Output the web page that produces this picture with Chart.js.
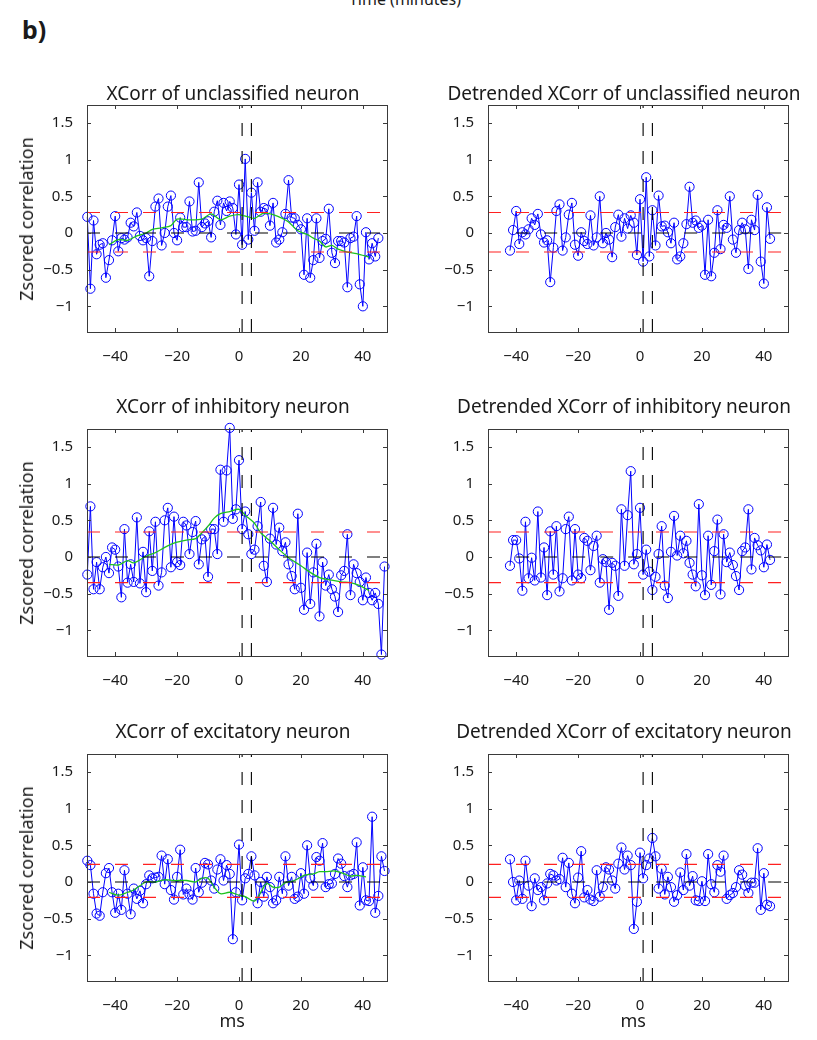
<!DOCTYPE html>
<html>
<head>
<meta charset="utf-8">
<script src="https://cdn.jsdelivr.net/npm/chart.js@4.4.1/dist/chart.umd.min.js"></script>
<style>
  body { margin: 0; background: #fff; font-family: "Noto Sans", sans-serif; color: #1a1a1a; }
  #fig { position: relative; width: 817px; height: 1040px; overflow: hidden; }
  canvas { position: absolute; }
  .title { position: absolute; font-size: 19px; white-space: nowrap; transform: translateX(-50%); }
  .ylab { position: absolute; font-size: 18px; white-space: nowrap; transform: translate(-50%, -50%) rotate(-90deg); }
  .xlab { position: absolute; font-size: 18px; transform: translateX(-50%); }
  #panel-tag { position: absolute; left: 22px; top: 12px; font-size: 25px; font-weight: bold; }
  #top-cut { position: absolute; left: 405px; top: -12px; font-size: 16px; transform: translateX(-50%); }
</style>
</head>
<body>
<div id="fig">
  <div id="top-cut">Time (minutes)</div>
  <div id="panel-tag">b)</div>
</div>
<script>
// ---- data ----
const xTicks = [-40, -20, 0, 20, 40];
const yTicks = [-1, -0.5, 0, 0.5, 1, 1.5];
const eventLags = [1, 4];
const rawLagStart = -49;
const detrendedLagStart = -42;

const titles = [
  ['XCorr of unclassified neuron', 'Detrended XCorr of unclassified neuron'],
  ['XCorr of inhibitory neuron', 'Detrended XCorr of inhibitory neuron'],
  ['XCorr of excitatory neuron', 'Detrended XCorr of excitatory neuron']
];

// significance thresholds (red dashed), one per row
const upperThreshold = [0.28, 0.34, 0.24];
const lowerThreshold = [-0.26, -0.35, -0.21];

// raw cross-correlations, lag -49 ms onwards
const rawUnclassified = [
  0.22, -0.76, 0.17, -0.29, -0.16, -0.14, -0.61, -0.37, -0.10, 0.23,
  -0.25, -0.07, -0.09, -0.06, 0.14, 0.09, 0.28, -0.04, -0.10, -0.07,
  -0.59, -0.11, 0.36, 0.47, -0.17, 0.00, 0.36, 0.51, 0.00, -0.10,
  0.21, 0.08, 0.08, 0.43, 0.02, 0.03, 0.69, 0.08, 0.13, 0.16,
  -0.06, 0.29, 0.44, 0.11, 0.41, 0.30, 0.43, 0.34, -0.02, 0.66,
  -0.16, 1.01, -0.09, 0.55, 0.03, 0.69, 0.29, 0.34, 0.32, 0.10,
  0.41, -0.13, -0.09, 0.01, 0.26, 0.72, 0.21, 0.20, 0.11, 0.05,
  -0.57, 0.20, -0.61, -0.37, 0.20, -0.34, -0.11, -0.08, 0.33, -0.27,
  -0.41, -0.11, -0.11, -0.13, -0.74, -0.07, -0.05, 0.23, -0.70, -1.00,
  0.01, -0.36, -0.14, -0.32, -0.07
];
const rawInhibitory = [
  -0.24, 0.69, -0.44, -0.07, -0.44, -0.14, 0.00, -0.22, 0.13, 0.10,
  -0.13, -0.55, 0.38, -0.35, -0.10, -0.34, 0.54, -0.36, 0.07, -0.48,
  0.35, -0.19, 0.48, -0.39, -0.21, 0.50, 0.67, -0.14, 0.55, -0.07,
  -0.11, 0.48, 0.43, 0.04, 0.34, 0.49, -0.10, 0.24, 0.28, -0.27,
  0.38, 0.38, 0.04, 1.19, 0.48, 1.18, 1.76, 0.52, 0.65, 1.32,
  0.38, 0.62, 0.31, 0.04, 0.10, 0.42, 0.75, -0.12, -0.34, 0.25,
  0.67, 0.17, 0.40, 0.08, 0.20, -0.10, -0.26, -0.44, 0.59, -0.42,
  -0.72, 0.06, -0.64, -0.21, 0.18, -0.81, -0.07, -0.39, -0.24, -0.44,
  -0.54, -0.75, -0.25, -0.19, 0.31, -0.52, -0.10, -0.22, -0.34, -0.59,
  -0.28, -0.49, -0.59, -0.49, -0.64, -1.33, -0.13
];
const rawExcitatory = [
  0.29, 0.23, -0.16, -0.43, -0.46, -0.14, 0.12, 0.19, -0.14, -0.42,
  -0.16, -0.38, 0.16, -0.16, -0.44, -0.09, -0.23, -0.12, -0.29, -0.03,
  0.09, 0.05, 0.06, 0.07, 0.36, -0.03, 0.31, -0.11, -0.24, 0.07,
  0.44, -0.17, -0.09, -0.17, -0.24, 0.19, -0.14, -0.01, 0.26, 0.24,
  0.02, -0.09, 0.17, 0.31, 0.02, 0.23, 0.11, -0.78, -0.14, 0.51,
  -0.25, 0.05, 0.11, 0.35, 0.09, -0.29, 0.00, -0.20, 0.07, -0.07,
  -0.29, -0.25, 0.07, -0.16, 0.35, -0.05, 0.07, -0.23, -0.20, 0.12,
  -0.16, 0.50, 0.05, -0.05, 0.34, 0.29, 0.53, -0.07, -0.03, -0.02,
  0.11, 0.32, 0.25, 0.08, -0.07, 0.09, 0.11, 0.54, -0.32, 0.20,
  -0.25, -0.26, 0.89, -0.42, -0.19, 0.35, 0.15
];

// green trend curves (sampled lags / values)
const trendLagsUnclassified = [-42, -39, -36, -33, -30, -28, -25, -22, -20, -16, -12, -9, -6, -3, 0, 3, 5, 8, 11, 14, 16, 19, 22, 24, 26, 28, 30, 32, 35, 38, 42];
const trendUnclassified = [-0.16, -0.09, -0.10, -0.04, 0.00, 0.05, 0.07, 0.10, 0.19, 0.18, 0.19, 0.26, 0.18, 0.23, 0.25, 0.22, 0.20, 0.27, 0.25, 0.20, 0.15, 0.03, -0.02, -0.07, -0.11, -0.19, -0.17, -0.22, -0.26, -0.28, -0.33];
const trendLagsInhibitory = [-42, -39, -36, -34, -30, -27, -24, -21, -17, -14, -12, -10, -8, -6, -3, 0, 2, 5, 7, 10, 13, 16, 20, 23, 26, 29, 33, 36, 39, 42];
const trendInhibitory = [-0.10, -0.11, -0.05, -0.08, 0.01, 0.06, 0.13, 0.19, 0.23, 0.25, 0.33, 0.42, 0.53, 0.59, 0.62, 0.65, 0.57, 0.46, 0.33, 0.22, 0.10, -0.01, -0.12, -0.21, -0.28, -0.31, -0.34, -0.35, -0.39, -0.46];
const trendLagsExcitatory = [-42, -39, -36, -34, -30, -27, -24, -21, -17, -14, -12, -10, -8, -6, -3, 0, 2, 5, 7, 9, 11, 13, 15, 18, 21, 24, 26, 28, 31, 34, 36, 38, 41];
const trendExcitatory = [-0.14, -0.18, -0.14, -0.11, 0.00, 0.00, 0.03, 0.02, 0.02, 0.00, 0.05, 0.05, -0.07, -0.16, -0.14, -0.18, -0.20, -0.26, -0.14, -0.02, -0.07, -0.07, -0.01, 0.02, 0.09, 0.11, 0.14, 0.14, 0.15, 0.11, 0.08, 0.09, 0.07];

// detrended cross-correlations, lag -42 ms onwards
const detrendedUnclassified = [
  -0.24, 0.04, 0.30, -0.15, 0.01, -0.02, 0.05, 0.20, 0.11, 0.26,
  -0.02, -0.13, -0.10, -0.67, -0.20, 0.30, 0.39, -0.24, -0.06, 0.25,
  0.41, -0.16, -0.31, 0.01, -0.11, -0.15, 0.24, -0.17, -0.06, 0.50,
  -0.14, 0.00, -0.09, -0.33, 0.08, 0.25, -0.05, 0.20, 0.06, 0.24,
  0.14, -0.30, 0.46, -0.39, 0.76, -0.32, 0.31, -0.17, 0.51, 0.09,
  0.10, 0.01, -0.14, 0.14, -0.36, -0.32, -0.14, 0.12, 0.63, 0.14,
  0.17, 0.07, 0.10, -0.57, 0.18, -0.59, -0.27, 0.31, -0.22, 0.11,
  0.07, 0.50, -0.09, -0.27, 0.04, 0.14, 0.05, -0.49, 0.18, 0.04,
  0.52, -0.39, -0.69, 0.35, -0.08
];
const detrendedInhibitory = [
  -0.12, 0.23, 0.23, -0.02, -0.46, 0.48, -0.29, -0.01, -0.32, 0.62,
  -0.28, 0.13, -0.52, 0.35, -0.24, 0.42, -0.47, -0.29, 0.38, 0.55,
  -0.32, 0.38, -0.24, -0.29, 0.26, 0.22, -0.18, 0.15, 0.29, -0.35,
  -0.03, -0.07, -0.72, -0.08, -0.12, -0.53, 0.65, -0.12, 0.57, 1.17,
  -0.10, 0.04, 0.67, -0.24, 0.10, -0.20, -0.45, -0.27, 0.04, 0.42,
  -0.39, -0.56, 0.07, 0.56, 0.02, 0.29, 0.05, 0.22, -0.08, -0.24,
  -0.40, 0.72, -0.25, -0.52, 0.29, -0.38, 0.08, 0.51, -0.51, 0.31,
  -0.07, 0.06, -0.11, -0.26, -0.45, 0.08, 0.13, 0.65, -0.17, 0.26,
  0.16, 0.09, -0.14, 0.17, -0.04
];
const detrendedExcitatory = [
  0.31, 0.00, -0.25, 0.02, -0.23, 0.29, -0.05, -0.33, 0.05, -0.11,
  -0.07, -0.25, -0.02, 0.11, 0.09, 0.02, 0.04, 0.33, -0.07, 0.26,
  -0.16, -0.29, 0.06, 0.42, -0.21, -0.11, -0.24, -0.26, 0.16, -0.20,
  -0.07, 0.20, 0.17, 0.02, -0.09, 0.25, 0.47, 0.17, 0.36, 0.23,
  -0.64, -0.27, 0.40, 0.05, 0.23, 0.32, 0.60, 0.35, -0.09, 0.18,
  -0.17, 0.07, -0.07, -0.27, -0.18, 0.13, -0.11, 0.38, -0.05, 0.08,
  -0.25, -0.26, 0.01, -0.26, 0.38, -0.03, -0.14, 0.23, 0.14, 0.36,
  -0.23, -0.18, -0.15, -0.07, 0.16, 0.10, -0.05, -0.15, -0.01, -0.01,
  0.46, -0.38, 0.12, -0.31, -0.33
];

// ---- layout ----
const X_MIN = -49.1, X_MAX = 47.8;
const Y_MIN = -1.35, Y_MAX = 1.745;
const PLOT_LEFT = [87, 488];
const PLOT_WIDTH = 300.5;
const PLOT_TOP = [105, 429, 754];
const PLOT_HEIGHT = 227;
const PAD_L = 60, PAD_T = 15, PAD_R = 20, PAD_B = 35;
const TITLE_X = [233, 624];
const TITLE_Y = [80, 393, 718];

const fig = document.getElementById('fig');

function fmt(v) {
    return String(v).replace('-', '\u2212');
}

function toPoints(start, values) {
    return values.map((v, i) => ({ x: start + i, y: v }));
}

function zip(xs, ys) {
    return xs.map((x, i) => ({ x: x, y: ys[i] }));
}

// box + inward ticks, MATLAB style
const boxPlugin = {
    id: 'box',
    afterDatasetsDraw(chart) {
        const { ctx, chartArea: a, scales } = chart;
        ctx.save();
        ctx.strokeStyle = '#3a3a3a';
        ctx.lineWidth = 1;
        ctx.beginPath();
        xTicks.forEach(t => {
            const px = Math.round(scales.x.getPixelForValue(t)) + 0.5;
            ctx.moveTo(px, a.bottom); ctx.lineTo(px, a.bottom - 4);
            ctx.moveTo(px, a.top); ctx.lineTo(px, a.top + 4);
        });
        yTicks.forEach(t => {
            const py = Math.round(scales.y.getPixelForValue(t)) + 0.5;
            ctx.moveTo(a.left, py); ctx.lineTo(a.left + 4, py);
            ctx.moveTo(a.right, py); ctx.lineTo(a.right - 4, py);
        });
        ctx.stroke();
        ctx.strokeRect(Math.round(a.left) + 0.5, Math.round(a.top) + 0.5,
                       Math.round(a.right - a.left), Math.round(a.bottom - a.top));
        ctx.restore();
    }
};

function addText(cls, text, x, y) {
    const d = document.createElement('div');
    d.className = cls;
    d.textContent = text;
    d.style.left = x + 'px';
    d.style.top = y + 'px';
    fig.appendChild(d);
}

function makePanel(row, col, data, trend) {
    const canvas = document.createElement('canvas');
    const w = PAD_L + PLOT_WIDTH + PAD_R;
    const h = PAD_T + PLOT_HEIGHT + PAD_B;
    canvas.width = w;
    canvas.height = h;
    canvas.style.left = (PLOT_LEFT[col] - PAD_L) + 'px';
    canvas.style.top = (PLOT_TOP[row] - PAD_T) + 'px';
    fig.appendChild(canvas);

    const dash = [13, 15];
    const zeroStart = col === 0 ? X_MIN : -40;
    const datasets = [];

    eventLags.forEach(lag => {
        datasets.push({
            data: [{ x: lag, y: Y_MIN }, { x: lag, y: Y_MAX }],
            borderColor: '#000', borderWidth: 1.1, borderDash: dash,
            pointRadius: 0, showLine: true, order: 0
        });
    });
    datasets.push({
        data: [{ x: zeroStart, y: 0 }, { x: X_MAX, y: 0 }],
        borderColor: '#000', borderWidth: 1.1, borderDash: dash,
        pointRadius: 0, showLine: true, order: 1
    });
    [upperThreshold[row], lowerThreshold[row]].forEach(th => {
        datasets.push({
            data: [{ x: X_MIN, y: th }, { x: X_MAX, y: th }],
            borderColor: '#ff2020', borderWidth: 1.1, borderDash: dash,
            pointRadius: 0, showLine: true, order: 2
        });
    });
    if (trend) {
        datasets.push({
            data: trend,
            borderColor: '#1ec21e', borderWidth: 1.3, tension: 0.3,
            pointRadius: 0, showLine: true, order: 3
        });
    }
    datasets.push({
        data: data,
        borderColor: '#0000ff', borderWidth: 1,
        pointRadius: 4.6, pointBorderWidth: 1,
        pointBackgroundColor: 'rgba(0,0,0,0)', pointBorderColor: '#0000ff',
        showLine: true, clip: false, order: 4
    });

    const tickFont = { family: '"Noto Sans", sans-serif', size: 15 };

    new Chart(canvas.getContext('2d'), {
        type: 'scatter',
        data: { datasets: datasets },
        options: {
            responsive: false,
            animation: false,
            events: [],
            layout: { padding: { left: 0, top: PAD_T, right: PAD_R, bottom: 0 } },
            plugins: { legend: { display: false }, tooltip: { enabled: false } },
            scales: {
                x: {
                    type: 'linear', min: X_MIN, max: X_MAX,
                    grid: { display: false }, border: { display: false },
                    afterBuildTicks: s => { s.ticks = xTicks.map(v => ({ value: v })); },
                    afterFit: s => { s.height = PAD_B; },
                    ticks: { font: tickFont, color: '#1a1a1a', padding: 8, maxRotation: 0, callback: v => fmt(v) }
                },
                y: {
                    type: 'linear', min: Y_MIN, max: Y_MAX,
                    grid: { display: false }, border: { display: false },
                    afterBuildTicks: s => { s.ticks = yTicks.map(v => ({ value: v })); },
                    afterFit: s => { s.width = PAD_L; },
                    ticks: { font: tickFont, color: '#1a1a1a', padding: 6, callback: v => fmt(v) }
                }
            }
        },
        plugins: [boxPlugin]
    });

    addText('title', titles[row][col], TITLE_X[col], TITLE_Y[row]);
    if (col === 0) {
        addText('ylab', 'Zscored correlation', 26, PLOT_TOP[row] + PLOT_HEIGHT / 2);
    }
    if (row === 2) {
        addText('xlab', 'ms', PLOT_LEFT[col] + PLOT_WIDTH / 2 - 5, 1008);
    }
}

makePanel(0, 0, toPoints(rawLagStart, rawUnclassified), zip(trendLagsUnclassified, trendUnclassified));
makePanel(0, 1, toPoints(detrendedLagStart, detrendedUnclassified), null);
makePanel(1, 0, toPoints(rawLagStart, rawInhibitory), zip(trendLagsInhibitory, trendInhibitory));
makePanel(1, 1, toPoints(detrendedLagStart, detrendedInhibitory), null);
makePanel(2, 0, toPoints(rawLagStart, rawExcitatory), zip(trendLagsExcitatory, trendExcitatory));
makePanel(2, 1, toPoints(detrendedLagStart, detrendedExcitatory), null);
</script>
</body>
</html>
